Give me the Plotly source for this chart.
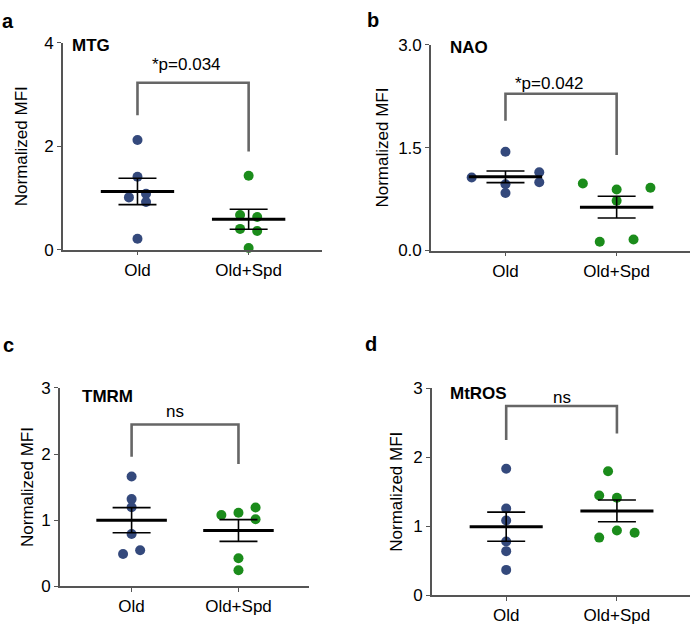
import numpy as np
import plotly.graph_objects as go

# ---------------- data ----------------
categories = ["Old", "Old+Spd"]
panel_letters = ["a", "b", "c", "d"]
panel_names = ["MTG", "NAO", "TMRM", "MtROS"]
p_labels = ["*p=0.034", "*p=0.042", "ns", "ns"]

mtg_old = [2.12, 1.41, 1.01, 1.08, 0.92, 0.21]
mtg_spd = [1.43, 0.67, 0.63, 0.40, 0.36, 0.03]
nao_old = [1.44, 1.065, 1.14, 0.966, 0.994, 0.838]
nao_spd = [0.975, 0.89, 0.914, 0.725, 0.127, 0.16]
tmrm_old = [1.66, 1.317, 1.194, 0.788, 0.485, 0.543]
tmrm_spd = [1.077, 1.111, 1.189, 1.013, 0.421, 0.24]
mtros_old = [1.833, 1.256, 1.083, 0.778, 0.638, 0.366]
mtros_spd = [1.796, 1.444, 1.411, 0.938, 0.905, 0.834]

# horizontal swarm offsets (in jitter steps)
mtg_old_jit = [0, 0, -1, 1, 1, 0]
mtg_spd_jit = [0, -1, 1, -1, 1, 0]
nao_old_jit = [0, -2, 2, 0, 2, 0]
nao_spd_jit = [-2, 0, 2, 0, -1, 1]
tmrm_old_jit = [0, 0, 0, 0, -1, 1]
tmrm_spd_jit = [-2, 0, 2, 2, 0, 0]
mtros_old_jit = [0, 0, 0, 0, 0, 0]
mtros_spd_jit = [-1, -2, 0, 0, 2, -2]

# significance brackets: top, left leg bottom, right leg bottom, label y
bracket_top = [3.23, 2.285, 2.447, 2.743]
bracket_left = [2.60, 1.889, 1.958, 2.25]
bracket_right = [1.90, 1.39, 1.85, 2.344]
label_y = [3.59, 2.44, 2.65, 2.87]
label_shift = [-7, -12, -10, 0]

y_max = [4, 3, 3, 3]
y_ticks = [[0, 2, 4], [0, 1.5, 3.0], [0, 1, 2, 3], [0, 1, 2, 3]]
y_ticktext = [["0", "2", "4"], ["0.0", "1.5", "3.0"], ["0", "1", "2", "3"], ["0", "1", "2", "3"]]

groups = [(mtg_old, mtg_spd, mtg_old_jit, mtg_spd_jit),
          (nao_old, nao_spd, nao_old_jit, nao_spd_jit),
          (tmrm_old, tmrm_spd, tmrm_old_jit, tmrm_spd_jit),
          (mtros_old, mtros_spd, mtros_old_jit, mtros_spd_jit)]

# ---------------- layout geometry (page pixels) ----------------
W, H = 693, 632
x_px = [(63, 322), (431, 690), (60, 309), (432, 690)]
y_px = [(248, 35), (249, 36.7), (595, 390.7), (604.3, 391)]
jit_step = [0.077, 0.152, 0.08, 0.08]
title_standoff = [12, 5, 3, 6]

BLUE = "#34497c"
GREEN = "#1b8c1b"
AXIS = "#555555"
BRK = "#666666"
FONT = "Liberation Sans, Arial, Helvetica, sans-serif"


def px_x(v):
    return v / W


def px_y(v):
    return 1 - v / H


fig = go.Figure()
layout = dict(
    width=W, height=H,
    margin=dict(l=0, r=0, t=0, b=0),
    paper_bgcolor="white", plot_bgcolor="white",
    showlegend=False,
    font=dict(family=FONT, color="black", size=17),
)
annotations = []
shapes = []

for k in range(4):
    sfx = "" if k == 0 else str(k + 1)
    xa, ya = "x" + sfx, "y" + sfx
    old, spd, jo, js = groups[k]
    colors = [BLUE, GREEN]
    for gi, (vals, jit) in enumerate([(old, jo), (spd, js)]):
        vals = np.array(vals, dtype=float)
        xs = gi + np.array(jit) * jit_step[k]
        fig.add_trace(go.Scatter(
            x=xs, y=vals, mode="markers", xaxis=xa, yaxis=ya,
            marker=dict(size=10, color=colors[gi]), cliponaxis=False,
            hoverinfo="skip"))
        m = vals.mean()
        sem = vals.std(ddof=1) / np.sqrt(len(vals))
        fig.add_trace(go.Scatter(
            x=[gi], y=[m], mode="markers", xaxis=xa, yaxis=ya,
            marker=dict(size=1, color="rgba(0,0,0,0)"),
            error_y=dict(type="data", array=[sem], color="black",
                         thickness=1.6, width=19),
            cliponaxis=False, hoverinfo="skip"))
        fig.add_trace(go.Scatter(
            x=[gi - 0.33, gi + 0.33], y=[m, m], mode="lines",
            xaxis=xa, yaxis=ya, line=dict(color="black", width=3),
            cliponaxis=False, hoverinfo="skip"))

    (x0, x1), (yb, yt) = x_px[k], y_px[k]
    layout["xaxis" + sfx] = dict(
        domain=[px_x(x0), px_x(x1)], anchor=ya, range=[-0.67, 1.66],
        tickvals=[0, 1], ticktext=categories, showline=True,
        linecolor=AXIS, linewidth=1.6, ticks="outside", ticklen=4,
        tickcolor=AXIS, showgrid=False, zeroline=False,
        tickfont=dict(size=17, family=FONT))
    layout["yaxis" + sfx] = dict(
        domain=[px_y(yb), px_y(yt)], anchor=xa, range=[0, y_max[k]],
        tickvals=y_ticks[k], ticktext=y_ticktext[k], showline=True,
        linecolor=AXIS, linewidth=1.6, ticks="outside", ticklen=4,
        tickcolor=AXIS, showgrid=False, zeroline=False,
        tickfont=dict(size=17, family=FONT),
        title=dict(text="Normalized MFI", font=dict(size=17, family=FONT),
                   standoff=title_standoff[k]))

    # bracket
    shapes.append(dict(type="path", xref=xa, yref=ya,
                       path=f"M 0,{bracket_left[k]} L 0,{bracket_top[k]} L 1,{bracket_top[k]} L 1,{bracket_right[k]}",
                       line=dict(color=BRK, width=2.6)))
    annotations.append(dict(x=0.5, y=label_y[k], xref=xa, yref=ya,
                            text=p_labels[k], showarrow=False, xshift=label_shift[k],
                            font=dict(size=17, family=FONT)))

# panel titles (bold names)
name_pos = [(70, 38), (448, 40), (80, 400), (448, 396)]
for k in range(4):
    px, py = name_pos[k]
    annotations.append(dict(x=px_x(px), y=px_y(py), xref="paper", yref="paper",
                            text=f"<b>{panel_names[k]}</b>", showarrow=False,
                            xanchor="left", yanchor="middle",
                            font=dict(size=17, family=FONT)))

# panel letters
letter_pos = [(8, 12), (373, 11), (8, 346), (371, 345)]
for k in range(4):
    px, py = letter_pos[k]
    annotations.append(dict(x=px_x(px), y=px_y(py), xref="paper", yref="paper",
                            text=f"<b>{panel_letters[k]}</b>", showarrow=False,
                            xanchor="center", yanchor="middle",
                            font=dict(size=20, family=FONT)))

layout["annotations"] = annotations
layout["shapes"] = shapes
fig.update_layout(**layout)
fig.write_html("out.html",
               config={"displayModeBar": False},
               post_script="document.body.style.margin='0';document.body.style.overflow='hidden';")
